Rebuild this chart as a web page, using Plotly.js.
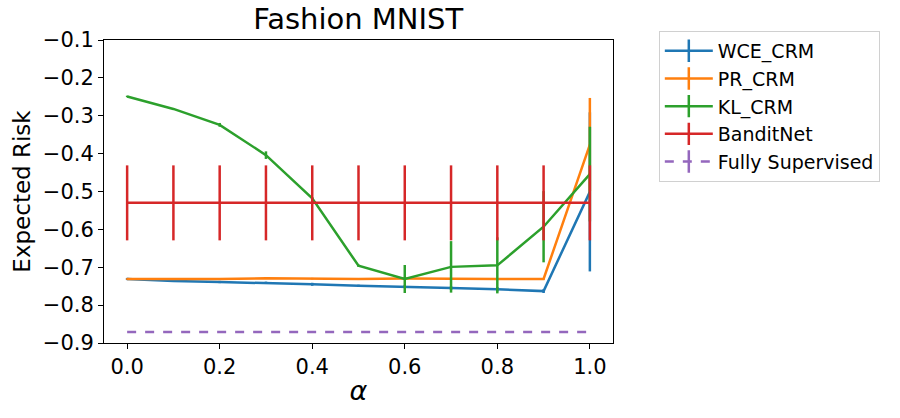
<!DOCTYPE html>
<html>
<head>
<meta charset="utf-8">
<script src="https://cdn.plot.ly/plotly-3.0.1.min.js"></script>
<style>
  body { margin: 0; background: #fff; }
  #chart { width: 900px; height: 418px; }
</style>
</head>
<body>
<div id="chart"></div>
<script>
// alpha values on the x axis
const alphas = [0.0, 0.1, 0.2, 0.3, 0.4, 0.5, 0.6, 0.7, 0.8, 0.9, 1.0];

// series values (expected risk) and their error bars
const wceMean = [-0.731, -0.736, -0.739, -0.741, -0.745, -0.749, -0.751, -0.755, -0.758, -0.763, -0.501];
const wceErr  = [0.003, 0.003, 0.003, 0.003, 0.004, 0.003, 0.004, 0.005, 0.006, 0.005, 0.21];

const prMean = [-0.731, -0.731, -0.731, -0.729, -0.730, -0.731, -0.730, -0.731, -0.731, -0.731, -0.376];
const prErr  = [0.002, 0.002, 0.002, 0.002, 0.002, 0.002, 0.002, 0.002, 0.002, 0.002, 0.123];

const klMean = [-0.249, -0.282, -0.324, -0.404, -0.518, -0.696, -0.731, -0.699, -0.695, -0.593, -0.454];
const klErr  = [0.002, 0.002, 0.005, 0.01, 0.003, 0.003, 0.037, 0.068, 0.074, 0.094, 0.125];

const banditMean = [-0.53, -0.53, -0.53, -0.53, -0.53, -0.53, -0.53, -0.53, -0.53, -0.53, -0.53];
const banditErr  = [0.099, 0.099, 0.099, 0.099, 0.099, 0.099, 0.099, 0.099, 0.099, 0.099, 0.099];

const fullMean = [-0.871, -0.871, -0.871, -0.871, -0.871, -0.871, -0.871, -0.871, -0.871, -0.871, -0.871];

const seriesNames = ['WCE_CRM', 'PR_CRM', 'KL_CRM', 'BanditNet', 'Fully Supervised'];
const colors = ['#1f77b4', '#ff7f0e', '#2ca02c', '#d62728', '#9467bd'];

const means = [wceMean, prMean, klMean, banditMean, fullMean];
const errs = [wceErr, prErr, klErr, banditErr, null];

const traces = [];

// data traces (no legend entry, matplotlib-style errorbars without caps)
means.forEach((m, i) => {
    const t = {
        x: alphas,
        y: m,
        type: 'scatter',
        mode: 'lines',
        name: seriesNames[i],
        showlegend: false,
        line: { color: colors[i], width: 2.5, dash: i === 4 ? 'dash' : 'solid' }
    };
    if (errs[i]) {
        t.error_y = { type: 'data', array: errs[i], visible: true, color: colors[i], thickness: 2.5, width: 0 };
    }
    traces.push(t);
});

// legend entries: line with a vertical tick like matplotlib errorbar handles
seriesNames.forEach((name, i) => {
    traces.push({
        x: [null],
        y: [null],
        type: 'scatter',
        mode: 'lines+markers',
        name: name,
        line: { color: colors[i], width: 2.5, dash: i === 4 ? 'dash' : 'solid' },
        marker: { symbol: 'line-ns-open', size: 16, color: colors[i], line: { color: colors[i], width: 2.5 } }
    });
});

const layout = {
    width: 900,
    height: 418,
    paper_bgcolor: '#fff',
    plot_bgcolor: '#fff',
    font: { family: 'DejaVu Sans', color: '#000', size: 21 },
    margin: { l: 104, r: 287, t: 40, b: 75 },
    title: { text: 'Fashion MNIST', font: { size: 29 }, x: 0.398, xanchor: 'center', y: 0.978, yanchor: 'top' },
    xaxis: {
        range: [-0.05, 1.05],
        tickvals: [0, 0.2, 0.4, 0.6, 0.8, 1.0],
        ticktext: ['0.0', '0.2', '0.4', '0.6', '0.8', '1.0'],
        ticks: 'outside', ticklen: 5, tickwidth: 1, tickcolor: '#000',
        showgrid: false, zeroline: false,
        showline: true, mirror: true, linecolor: '#000', linewidth: 1,
        tickfont: { size: 21 },
        title: { text: '<i>α</i>', font: { size: 27 }, standoff: 2 }
    },
    yaxis: {
        range: [-0.9, -0.1],
        tickvals: [-0.9, -0.8, -0.7, -0.6, -0.5, -0.4, -0.3, -0.2, -0.1],
        ticktext: ['−0.9', '−0.8', '−0.7', '−0.6', '−0.5', '−0.4', '−0.3', '−0.2', '−0.1'],
        ticks: 'outside', ticklen: 5, tickwidth: 1, tickcolor: '#000',
        showgrid: false, zeroline: false,
        showline: true, mirror: true, linecolor: '#000', linewidth: 1,
        tickfont: { size: 21 },
        title: { text: 'Expected Risk', font: { size: 23 }, standoff: 5 }
    },
    legend: {
        x: 1.09, xanchor: 'left', y: 1.03, yanchor: 'top',
        bgcolor: '#fff', bordercolor: '#d0d0d0', borderwidth: 1,
        font: { size: 19 }, tracegroupgap: 0, itemwidth: 48
    }
};

Plotly.newPlot('chart', traces, layout, { displayModeBar: false, staticPlot: true });
</script>
</body>
</html>
